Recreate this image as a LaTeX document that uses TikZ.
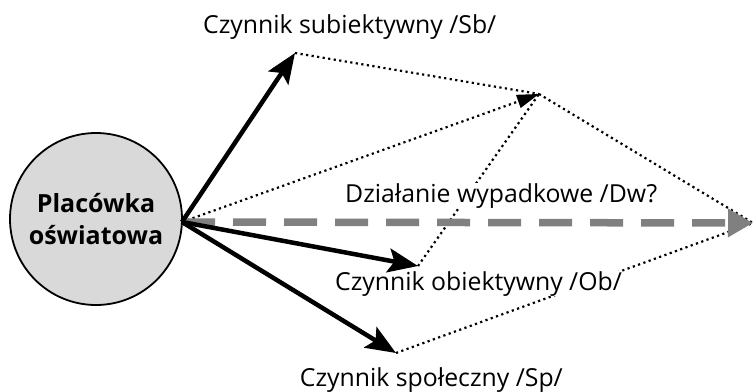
\documentclass[tikz,border=0pt]{standalone}
\usepackage{fontspec}
\setmainfont{Open Sans}
\usetikzlibrary{arrows.meta,calc}
\begin{document}
\begin{tikzpicture}[x=1pt,y=-1pt,
  lbl/.style={font=\fontsize{24.8}{28}\selectfont, inner sep=0pt, fill=white},
  solidarrow/.style={line width=4.5pt, -{Stealth[length=30pt,width=24pt,inset=6pt]}},
  dots/.style={line width=2.2pt, dash pattern=on 2.2pt off 3.4pt},
  dasharrow/.style={line width=7.5pt, draw=black!50, dash pattern=on 33pt off 18pt, -{Triangle[length=25pt,width=27pt,fill=black!50]}}
]
\useasboundingbox (0,0) rectangle (754,391);
\node[circle, draw, line width=1.8pt, fill=black!15, minimum size=172pt, inner sep=0pt, align=center,
  font=\bfseries\fontsize{25}{32}\selectfont] (C) at (96,219) {Placówka\\oświatowa};
\coordinate (O) at (182,222);
\coordinate (Sb) at (295,53);
\coordinate (P) at (539,94);
\coordinate (Ob) at (418,266);
\coordinate (Sp) at (396,353);
\coordinate (E) at (753,223);
% dotted lines
\draw[dots] (Sb) -- (P);
\draw[dots] (P) -- (E);
\draw[dots] (Sp) -- (E);
\draw[dots] (Ob) -- (P);
\draw[dots] (O) -- (P);
\fill (P) -- ($(P)!22pt!(O)!7pt!90:(O)$) -- ($(P)!22pt!(O)!7pt!-90:(O)$) -- cycle;
% labels (white background hides the dotted lines behind them)
\node[lbl, anchor=base west] (tSb) at (203,33) {Czynnik subiektywny /Sb/};
\node[lbl, anchor=base west] (tDw) at (345,202) {Działanie wypadkowe /Dw?};
\node[lbl, anchor=base west] (tOb) at (335,290) {Czynnik obiektywny /Ob/};
\node[lbl, anchor=base east] (tSp) at (563,386) {Czynnik społeczny /Sp/};
% dashed arrow
\draw[dasharrow] (O) -- (E);
% solid arrows
\draw[solidarrow] (O) -- (Sb);
\draw[solidarrow] (O) -- (Ob);
\draw[solidarrow] (O) -- (Sp);
\end{tikzpicture}
\end{document}
